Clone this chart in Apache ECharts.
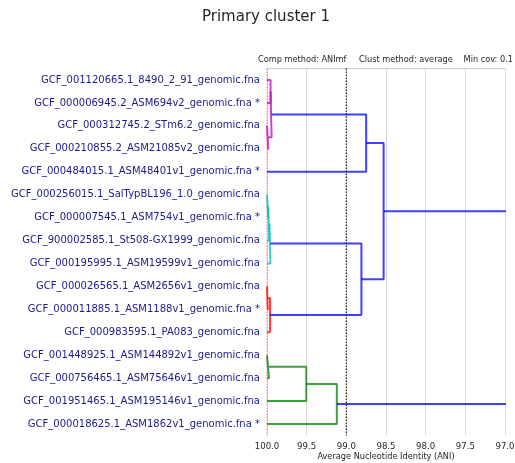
<!DOCTYPE html>
<html>
<head>
<meta charset="utf-8">
<script src="https://cdn.jsdelivr.net/npm/echarts@6/dist/echarts.min.js"></script>
<style>
  html, body { margin: 0; padding: 0; background: #fff; }
  #chart { width: 515px; height: 463px; }
</style>
</head>
<body>
<div id="chart"></div>
<script>
// Genomes, listed top to bottom in dendrogram leaf order
const genomes = [
  'GCF_001120665.1_8490_2_91_genomic.fna',
  'GCF_000006945.2_ASM694v2_genomic.fna *',
  'GCF_000312745.2_STm6.2_genomic.fna',
  'GCF_000210855.2_ASM21085v2_genomic.fna',
  'GCF_000484015.1_ASM48401v1_genomic.fna *',
  'GCF_000256015.1_SalTypBL196_1.0_genomic.fna',
  'GCF_000007545.1_ASM754v1_genomic.fna *',
  'GCF_900002585.1_St508-GX1999_genomic.fna',
  'GCF_000195995.1_ASM19599v1_genomic.fna',
  'GCF_000026565.1_ASM2656v1_genomic.fna',
  'GCF_000011885.1_ASM1188v1_genomic.fna *',
  'GCF_000983595.1_PA083_genomic.fna',
  'GCF_001448925.1_ASM144892v1_genomic.fna',
  'GCF_000756465.1_ASM75646v1_genomic.fna',
  'GCF_001951465.1_ASM195146v1_genomic.fna',
  'GCF_000018625.1_ASM1862v1_genomic.fna *'
];

// Average-linkage merges: node ids 0..15 are leaves, each merge creates id 16, 17, ...
const mergeLeft   = [0, 2, 16, 18, 5, 20, 21, 9, 23, 22, 19, 12, 27, 28, 26];
const mergeRight  = [1, 3, 17, 4, 6, 7, 8, 10, 11, 24, 25, 13, 14, 15, 29];
const mergeANI    = [99.955, 99.984, 99.942, 98.75, 99.985, 99.97, 99.958, 99.99, 99.962,
                     98.81, 98.53, 99.975, 99.505, 99.12, 96.5];
const mergeColor  = ['m', 'm', 'm', 'b', 'c', 'c', 'c', 'r', 'r', 'b', 'b', 'g', 'g', 'g', 'b'];

// Axis ticks and thresholds
const aniTicks = [100.0, 99.5, 99.0, 98.5, 98.0, 97.5, 97.0];
const primaryThreshold = 99.0;
const identityLine = 100.0;

const palette = { m: '#bf00bf', c: '#00bfbf', r: '#ff0000', g: '#008000', b: '#0000ff' };

// Leaf slots follow the scipy convention: leaf i sits at 5 + 10 i
const nodeY = genomes.map((_, i) => 5 + 10 * i);
const nodeH = genomes.map(() => 100.0);
const linkSeries = [];
mergeLeft.forEach((a, k) => {
  const b = mergeRight[k];
  const h = mergeANI[k];
  const ya = nodeY[a], yb = nodeY[b];
  linkSeries.push({
    type: 'line',
    xAxisIndex: 0,
    yAxisIndex: 0,
    data: [[nodeH[a], ya], [h, ya], [h, yb], [nodeH[b], yb]],
    showSymbol: false,
    symbol: 'none',
    silent: true,
    clip: true,
    lineStyle: { color: palette[mergeColor[k]], width: 2, opacity: 0.75 },
    z: 5
  });
  nodeY.push((ya + yb) / 2);
  nodeH.push(h);
});

const yMax = genomes.length * 10;
const textFont = '8.2px "DejaVu Sans"';

const chart = echarts.init(document.getElementById('chart'), null, { renderer: 'canvas' });
chart.setOption({
  animation: false,
  backgroundColor: '#ffffff',
  title: {
    text: 'Primary cluster 1',
    left: 266,
    top: 10,
    padding: 0,
    textAlign: 'center',
    textStyle: { fontFamily: 'DejaVu Sans', fontSize: 15, fontWeight: 'normal', color: '#262626' }
  },
  graphic: [
    { type: 'text', x: 258, y: 60, style: { text: 'Comp method: ANImf', font: textFont, fill: '#262626', align: 'left', verticalAlign: 'middle' } },
    { type: 'text', x: 359, y: 60, style: { text: 'Clust method: average', font: textFont, fill: '#262626', align: 'left', verticalAlign: 'middle' } },
    { type: 'text', x: 513, y: 60, style: { text: 'Min cov: 0.1', font: textFont, fill: '#262626', align: 'right', verticalAlign: 'middle' } },
    // x-axis title, centred under the plotting area
    { type: 'text', x: 386, y: 457, style: { text: 'Average Nucleotide Identity (ANI)', font: textFont, fill: '#262626', align: 'center', verticalAlign: 'middle' } }
  ],
  grid: { left: 267, right: 10, top: 68.5, bottom: 27.5, containLabel: false, outerBoundsMode: 'none' },
  xAxis: {
    type: 'value',
    inverse: true,
    min: aniTicks[aniTicks.length - 1],
    max: aniTicks[0],
    interval: 0.5,
    axisLine: { show: true, lineStyle: { color: '#cccccc', width: 1 } },
    axisTick: { show: false },
    axisLabel: {
      margin: 7,
      fontFamily: 'DejaVu Sans',
      fontSize: 8.6,
      color: '#262626',
      formatter: v => v.toFixed(1)
    },
    splitLine: { show: true, lineStyle: { color: '#dadada', width: 1 } }
  },
  yAxis: [
    { type: 'value', min: 0, max: yMax, inverse: true, show: false },
    {
      type: 'category',
      data: genomes,
      inverse: true,
      position: 'left',
      boundaryGap: true,
      axisLine: { show: false },
      axisTick: { show: false },
      splitLine: { show: false },
      axisLabel: { margin: 7, fontFamily: 'DejaVu Sans', fontSize: 10, color: '#1a1a8a' }
    }
  ],
  series: [
    {
      type: 'line',
      xAxisIndex: 0, yAxisIndex: 0,
      data: [[identityLine, 0], [identityLine, yMax]],
      showSymbol: false, symbol: 'none', silent: true, clip: false,
      lineStyle: { color: '#ff0000', width: 1, type: [1.5, 1.5], opacity: 0.5 },
      z: 3
    },
    {
      type: 'line',
      xAxisIndex: 0, yAxisIndex: 0,
      data: [[primaryThreshold, 0], [primaryThreshold, yMax]],
      showSymbol: false, symbol: 'none', silent: true, clip: false,
      lineStyle: { color: '#000000', width: 1.2, type: [1.5, 1.5], opacity: 0.85 },
      z: 3
    }
  ].concat(linkSeries)
});
</script>
</body>
</html>
